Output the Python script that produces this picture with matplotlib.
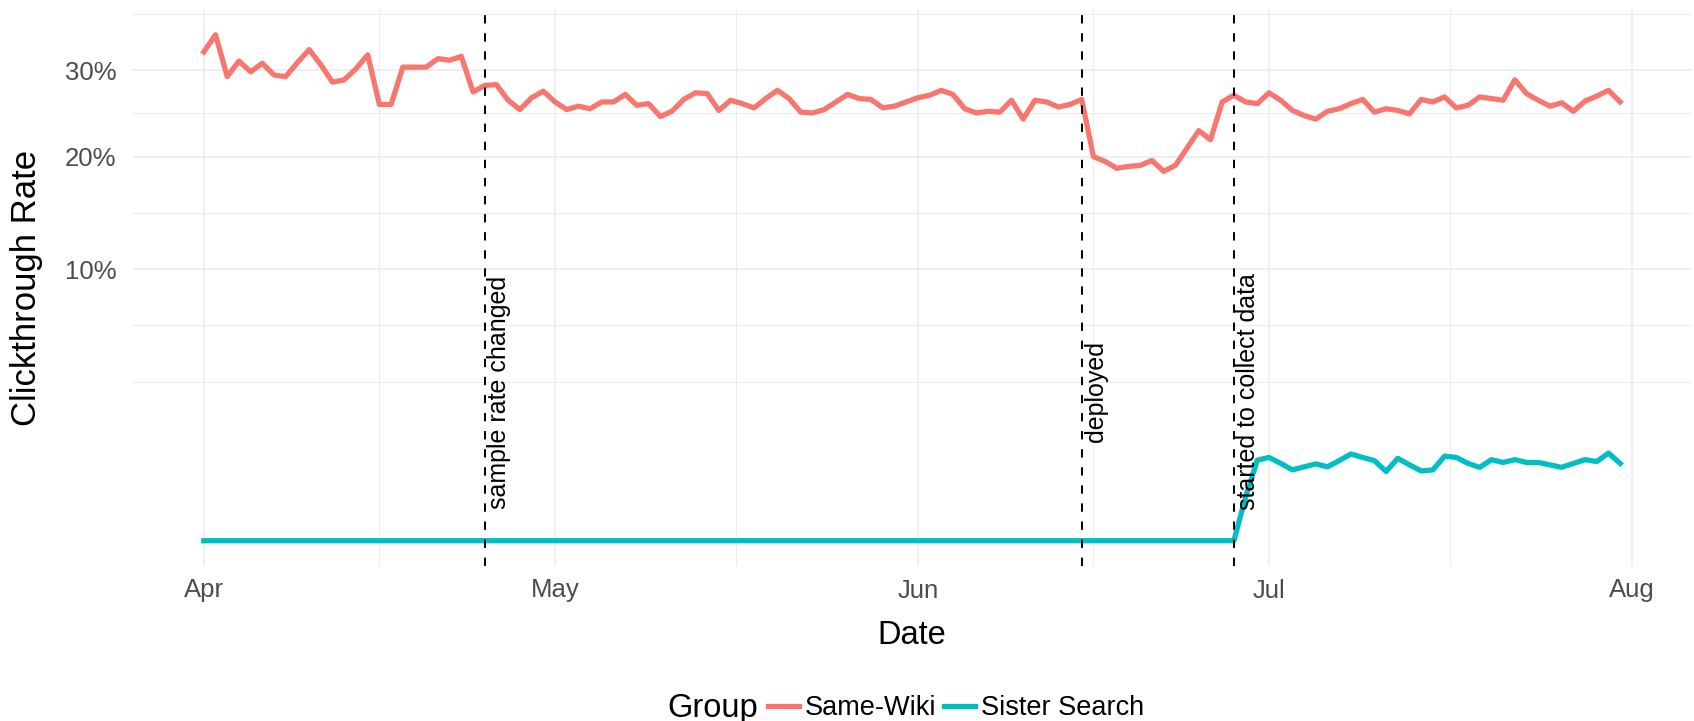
import numpy as np
import pandas as pd
import matplotlib
matplotlib.use("Agg")
import matplotlib.pyplot as plt
import matplotlib.dates as mdates
from matplotlib.lines import Line2D

plt.rcParams['font.family'] = ['Liberation Sans', 'DejaVu Sans']

# daily clickthrough rate in percent
days = pd.date_range('2017-04-01', '2017-07-31', freq='D')
same_wiki = [
    # Apr
    32.4, 34.7, 29.2, 31.2, 29.8, 30.9, 29.4, 29.2, 31.0, 32.7,
    30.7, 28.5, 28.8, 30.2, 32.0, 25.8, 25.8, 30.4, 30.4, 30.4,
    31.5, 31.3, 31.8, 27.3, 28.1, 28.2, 26.3, 25.2, 26.6, 27.4,
    # May
    26.1, 25.2, 25.6, 25.3, 26.1, 26.1, 27.0, 25.7, 25.9, 24.4,
    25.0, 26.4, 27.2, 27.1, 25.1, 26.3, 25.9, 25.4, 26.5, 27.5,
    26.5, 24.9, 24.8, 25.2, 26.1, 27.0, 26.5, 26.4, 25.4, 25.6,
    26.1,
    # Jun
    26.6, 26.9, 27.5, 27.0, 25.3, 24.8, 25.0, 24.9, 26.3, 24.1,
    26.3, 26.1, 25.5, 25.8, 26.4, 20.0, 19.5, 18.8, 19.0, 19.1,
    19.6, 18.5, 19.1, 20.9, 22.8, 21.8, 26.1, 26.9, 26.1, 25.9,
    # Jul
    27.2, 26.3, 25.1, 24.5, 24.1, 25.0, 25.3, 25.9, 26.4, 24.9,
    25.3, 25.1, 24.7, 26.4, 26.1, 26.7, 25.4, 25.7, 26.7, 26.5,
    26.3, 28.8, 27.1, 26.3, 25.6, 26.0, 25.0, 26.2, 26.8, 27.5,
    26.1,
]

# sister search is zero until data collection started
sister_days = pd.DatetimeIndex(['2017-04-01']).append(
    pd.date_range('2017-06-28', '2017-07-31', freq='D'))
sister_search = [
    0.0,
    0.0, 0.26, 0.88,
    0.94, 0.81, 0.68, 0.74, 0.80, 0.74, 0.87, 1.02, 0.94, 0.87,
    0.65, 0.92, 0.78, 0.66, 0.68, 0.97, 0.94, 0.81, 0.73, 0.89,
    0.83, 0.89, 0.83, 0.83, 0.78, 0.73, 0.81, 0.89, 0.85, 1.04,
    0.81,
]

event_dates = pd.to_datetime(['2017-04-25', '2017-06-15', '2017-06-28'])
event_labels = ['sample rate changed', 'deployed', 'started to collect data']
event_y = 3.0

y_ticks = [10, 20, 30]
y_tick_labels = ['10%', '20%', '30%']

red = '#F8766D'
teal = '#00BFC4'
grid_col = '#EBEBEB'
tick_col = '#4D4D4D'


def fwd(y):
    y = np.asarray(y, dtype=float)
    return np.sign(y) * np.sqrt(np.abs(y))


def inv(s):
    s = np.asarray(s, dtype=float)
    return np.sign(s) * s ** 2


W, H = 1694, 721
fig = plt.figure(figsize=(W / 100, H / 100), dpi=100)
ax = fig.add_axes([133 / W, 1 - 566 / H, (1691 - 133) / W, (566 - 9.5) / H])
ax.set_yscale('function', functions=(fwd, inv))

# grid first so the data sits on top
s_major = np.sqrt(y_ticks)
step = s_major[1] - s_major[0]
s_ext = np.concatenate([[s_major[0] - step], s_major, [s_major[-1] + step]])
s_minor = np.concatenate([[s_ext[0], s_ext[-1]], (s_ext[:-1] + s_ext[1:]) / 2])
ax.set_yticks(y_ticks)
ax.set_yticklabels(y_tick_labels)
ax.set_yticks(s_minor ** 2, minor=True)

month_ticks = pd.date_range('2017-04-01', '2017-08-01', freq='MS')
mt = mdates.date2num(month_ticks)
ax.set_xticks(mt)
ax.xaxis.set_major_formatter(mdates.DateFormatter('%b'))
ax.set_xticks((mt[:-1] + mt[1:]) / 2, minor=True)

ax.grid(which='major', color=grid_col, lw=1.1)
ax.grid(which='minor', color=grid_col, lw=0.7)
ax.set_axisbelow(True)

ax.plot(days, same_wiki, color=red, lw=3.8, solid_joinstyle='round', zorder=3)
ax.plot(sister_days, sister_search, color=teal, lw=3.8, solid_joinstyle='round', zorder=3)

for d, lab in zip(event_dates, event_labels):
    ax.axvline(d, color='black', lw=1.4, linestyle=(0, (4.3, 5.0)), zorder=4)
    ax.annotate(lab, xy=(d, event_y), xytext=(1.5, 0), textcoords='offset points',
                rotation=90, ha='left', va='center', fontsize=18, color='black', zorder=5)

# limits like ggplot's 5% expansion (in sqrt space for y)
x0, x1 = mdates.date2num(days[0]), mdates.date2num(days[-1])
xpad = (x1 - x0) * 0.05
ax.set_xlim(x0 - xpad, x1 + xpad)
s_top = np.sqrt(max(same_wiki))
ypad = s_top * 0.05
ax.set_ylim(-ypad ** 2, (s_top + ypad) ** 2)

for sp in ax.spines.values():
    sp.set_visible(False)
ax.tick_params(which='both', length=0)
ax.tick_params(axis='y', labelsize=18.5, labelcolor=tick_col, pad=12)
ax.tick_params(axis='x', labelsize=18.5, labelcolor=tick_col, pad=9)

ax.set_ylabel('Clickthrough Rate', fontsize=25)
ax.yaxis.set_label_coords(-0.058, 0.5)
ax.set_xlabel('Date', fontsize=23.5)
ax.xaxis.set_label_coords(0.5, -0.097)

fig.text(667 / W, 1 - 708 / H, 'Group', fontsize=23.5, ha='left', va='center')
handles = [Line2D([], [], color=red, lw=3.8), Line2D([], [], color=teal, lw=3.8)]
fig.legend(handles, ['Same-Wiki', 'Sister Search'], loc='center left',
           bbox_to_anchor=(768 / W, 1 - 708 / H), ncol=2, frameon=False,
           fontsize=19.5, handlelength=1.15, handletextpad=0.2,
           columnspacing=0.3, borderpad=0, borderaxespad=0)

fig.savefig('out.png', dpi=100)
